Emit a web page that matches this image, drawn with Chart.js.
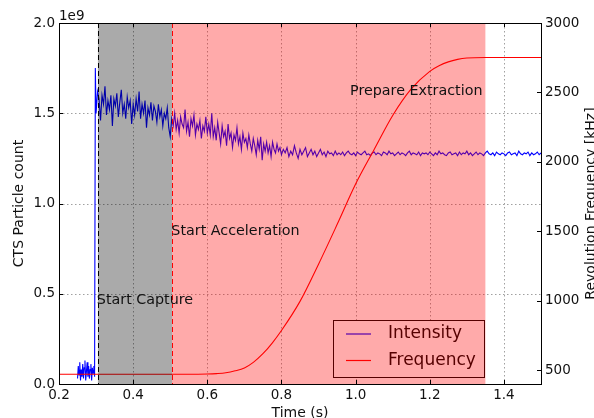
<!DOCTYPE html>
<html><head><meta charset="utf-8">
<script src="https://cdn.jsdelivr.net/npm/chart.js@4/dist/chart.umd.min.js"></script>
<style>html,body{margin:0;padding:0;background:#fff;overflow:hidden}</style>
</head><body>
<canvas id="c" width="594" height="418"></canvas>
<script>
// ---- tick labels ----
const xTicks = [0.2, 0.4, 0.6, 0.8, 1.0, 1.2, 1.4];
const leftTicks = [0, 0.5, 1.0, 1.5, 2.0];
const rightTicks = [500, 1000, 1500, 2000, 2500, 3000];

// ---- frequency series (kHz) ----
const freqTime = [0.20, 0.30, 0.40, 0.50, 0.55, 0.60, 0.625, 0.65, 0.675, 0.70, 0.725, 0.75, 0.775, 0.80, 0.85, 0.90, 0.95, 1.00, 1.05, 1.10, 1.15, 1.20, 1.225, 1.25, 1.275, 1.30, 1.35, 1.40, 1.50];
const freqValues = [470, 470, 470, 470, 470, 472, 475, 481, 495, 516, 558, 618, 695, 785, 995, 1263, 1548, 1840, 2089, 2334, 2525, 2652, 2692, 2720, 2738, 2748, 2752, 2752, 2752];

// ---- intensity series (particle count, x1e9) ----
const introStart = 0.250, introStep = 0.002;
const introValues = [0.03,0.10,0.05,0.12,0.02,0.08,0.04,0.11,0.03,0.09,0.13,0.02,0.07,0.12,0.04,0.10,0.03,0.08,0.11,0.02,0.09,0.06,0.10,0.04,1.75];
const captureStart = 0.300, captureStep = 0.004;
const captureValues = [
 1.50,1.62,1.58,1.46,1.60,1.55,1.65,1.49,1.57,1.52,1.60,1.43,1.58,1.54,1.61,1.48,1.56,1.63,1.50,1.55,1.47,1.59,1.53,1.57,1.44,1.55,
 1.49,1.58,1.51,1.62,1.47,1.55,1.50,1.57,1.42,1.53,1.49,1.56,1.46,1.54,1.51,1.45,1.55,1.48,1.52,1.43,1.50,1.47,1.53,1.42,1.37,
 1.47,1.43,1.50,1.41,1.46,1.39,1.48,1.44,1.42,1.52,1.40,1.45,1.37,1.47,1.43,1.49,1.38,1.44,1.41,1.46,1.36,1.43,1.40,1.48,1.39,
 1.44,1.38,1.50,1.37,1.42,1.35,1.45,1.39,1.33,1.43,1.37,1.40,1.32,1.44,1.36,1.39,1.31,1.38,1.35,1.42,1.33,1.37,1.30,1.39,1.34,
 1.36,1.31,1.38,1.33,1.29,1.36,1.32,1.27,1.35,1.30,1.37,1.24,1.33,1.29,1.34,1.28,1.32,1.26,1.34,1.30,1.28,1.33,1.29,1.31,1.27];
const tailStart = 0.805, tailStep = 0.005;
const tailValues = [
 1.30,1.28,1.31,1.26,1.29,1.27,1.32,1.28,1.25,1.30,1.27,1.29,1.31,1.26,1.28,1.30,1.27,1.29,1.26,1.28,1.30,1.27,1.285,1.26,1.29,1.275,1.28,1.265,1.29,1.27,
 1.28,1.27,1.285,1.265,1.28,1.29,1.275,1.27,1.28,1.265,
 1.285,1.275,1.27,1.28,1.29,1.27,1.275,1.265,1.28,1.285,
 1.27,1.28,1.275,1.265,1.285,1.28,1.27,1.29,1.275,1.28,
 1.265,1.275,1.285,1.27,1.28,1.275,1.265,1.28,1.29,1.27,
 1.28,1.275,1.27,1.285,1.265,1.28,1.275,1.28,1.27,1.285,
 1.275,1.265,1.28,1.27,1.29,1.275,1.28,1.27,1.265,1.28,
 1.285,1.27,1.275,1.28,1.265,1.285,1.27,1.28,1.275,1.29,
 1.27,1.28,1.265,1.275,1.285,1.27,1.28,1.275,1.265,1.28,
 1.29,1.275,1.27,1.28,1.265,1.285,1.275,1.27,1.28,1.275,
 1.265,1.28,1.285,1.27,1.275,1.28,1.265,1.29,1.275,1.27,
 1.28,1.275,1.285,1.265,1.28,1.27,1.275,1.285,1.27,1.28];

// ---- phases & annotations ----
const phaseTimes = { capture: 0.305, acceleration: 0.505, extractionEnd: 1.35 };
const annotationTexts = ['Start Capture', 'Start Acceleration', 'Prepare Extraction'];
const annotationTime = [0.302, 0.503, 0.985];
const annotationLevel = [0.465, 0.845, 1.62];

const seg = (start, step, vals) => vals.map((v, i) => ({ x: +(start + i * step).toFixed(4), y: v }));
const intensityData = [].concat(seg(introStart, introStep, introValues), seg(captureStart, captureStep, captureValues), seg(tailStart, tailStep, tailValues));
const freqData = freqTime.map((t, i) => ({ x: t, y: freqValues[i] }));

const FONT = '"DejaVu Sans", sans-serif';

const decor = {
  id: 'decor',
  beforeDatasetsDraw(chart) {
    const { ctx, chartArea: a, scales } = chart;
    ctx.save();
    ctx.strokeStyle = '#a0a0a0';
    ctx.lineWidth = 1;
    ctx.setLineDash([1.5, 2.5]);
    xTicks.forEach(v => {
      const px = Math.round(scales.x.getPixelForValue(v)) + 0.5;
      if (px <= a.left + 1 || px >= a.right - 1) return;
      ctx.beginPath(); ctx.moveTo(px, a.top); ctx.lineTo(px, a.bottom); ctx.stroke();
    });
    leftTicks.forEach(v => {
      const py = Math.round(scales.y.getPixelForValue(v)) + 0.5;
      if (py <= a.top + 1 || py >= a.bottom - 1) return;
      ctx.beginPath(); ctx.moveTo(a.left, py); ctx.lineTo(a.right, py); ctx.stroke();
    });
    ctx.restore();
  },
  afterDatasetsDraw(chart) {
    const { ctx, chartArea: a, scales } = chart;
    const X = v => scales.x.getPixelForValue(v);
    ctx.save();
    // legend (drawn below the translucent phase spans)
    const lx0 = a.left + 274, lx1 = a.right - 57, ly0 = a.bottom - 64, ly1 = a.bottom - 7;
    ctx.fillStyle = '#ffffff';
    ctx.fillRect(lx0, ly0, lx1 - lx0, ly1 - ly0);
    ctx.strokeStyle = '#000000'; ctx.lineWidth = 1;
    ctx.strokeRect(Math.round(lx0) + 0.5, Math.round(ly0) + 0.5, Math.round(lx1 - lx0), Math.round(ly1 - ly0));
    const items = [['Intensity', '#0000ff'], ['Frequency', '#ff0000']];
    ctx.font = '17px ' + FONT; ctx.textBaseline = 'middle'; ctx.textAlign = 'left';
    items.forEach((it, i) => {
      const yy = ly0 + 14 + i * 26.5;
      ctx.strokeStyle = it[1]; ctx.lineWidth = 1.2;
      ctx.beginPath(); ctx.moveTo(lx0 + 13, yy); ctx.lineTo(lx0 + 38, yy); ctx.stroke();
      ctx.fillStyle = '#000'; ctx.fillText(it[0], lx0 + 55, yy);
    });
    // phase spans
    ctx.fillStyle = 'rgba(0,0,0,0.333)';
    ctx.fillRect(X(phaseTimes.capture), a.top, X(phaseTimes.acceleration) - X(phaseTimes.capture), a.bottom - a.top);
    ctx.fillStyle = 'rgba(255,0,0,0.333)';
    ctx.fillRect(X(phaseTimes.acceleration), a.top, X(phaseTimes.extractionEnd) - X(phaseTimes.acceleration), a.bottom - a.top);
    // phase lines
    ctx.lineWidth = 1;
    ctx.setLineDash([5, 3]);
    ctx.strokeStyle = '#000';
    let px = Math.round(X(phaseTimes.capture)) + 0.5;
    ctx.beginPath(); ctx.moveTo(px, a.top); ctx.lineTo(px, a.bottom); ctx.stroke();
    ctx.strokeStyle = '#ff0000';
    px = Math.round(X(phaseTimes.acceleration)) + 0.5;
    ctx.beginPath(); ctx.moveTo(px, a.top); ctx.lineTo(px, a.bottom); ctx.stroke();
    ctx.setLineDash([]);
    // annotations
    ctx.font = '14.3px ' + FONT; ctx.fillStyle = '#111'; ctx.textAlign = 'left'; ctx.textBaseline = 'middle';
    annotationTexts.forEach((t, i) => ctx.fillText(t, X(annotationTime[i]), scales.y.getPixelForValue(annotationLevel[i])));
    // frame
    ctx.strokeStyle = '#000'; ctx.lineWidth = 1;
    ctx.strokeRect(Math.round(a.left) + 0.5, Math.round(a.top) + 0.5, Math.round(a.right - a.left), Math.round(a.bottom - a.top));
    // inward tick marks
    const tl = 4;
    ctx.beginPath();
    xTicks.forEach(v => { const p = Math.round(X(v)) + 0.5; ctx.moveTo(p, a.bottom); ctx.lineTo(p, a.bottom - tl); ctx.moveTo(p, a.top); ctx.lineTo(p, a.top + tl); });
    leftTicks.forEach(v => { const p = Math.round(scales.y.getPixelForValue(v)) + 0.5; ctx.moveTo(a.left, p); ctx.lineTo(a.left + tl, p); });
    rightTicks.forEach(v => { const p = Math.round(scales.y1.getPixelForValue(v)) + 0.5; ctx.moveTo(a.right, p); ctx.lineTo(a.right - tl, p); });
    ctx.stroke();
    ctx.restore();
  },
  afterDraw(chart) {
    const { ctx, chartArea: a } = chart;
    ctx.save();
    ctx.fillStyle = '#111';
    ctx.font = '13.5px ' + FONT;
    ctx.textAlign = 'left'; ctx.textBaseline = 'alphabetic';
    ctx.fillText('1e9', a.left, a.top - 3);
    ctx.font = '14px ' + FONT;
    ctx.textAlign = 'center'; ctx.textBaseline = 'middle';
    ctx.fillText('Time (s)', (a.left + a.right) / 2, 413);
    const cy = (a.top + a.bottom) / 2;
    ctx.save(); ctx.translate(19.5, cy); ctx.rotate(-Math.PI / 2); ctx.fillText('CTS Particle count', 0, 0); ctx.restore();
    ctx.save(); ctx.translate(591, cy); ctx.rotate(-Math.PI / 2); ctx.fillText('Revolution Frequency [kHz]', 0, 0); ctx.restore();
    ctx.restore();
  }
};

new Chart(document.getElementById('c'), {
  type: 'line',
  data: {
    datasets: [
      { label: 'Frequency', data: freqData, yAxisID: 'y1', borderColor: '#ff0000', borderWidth: 1.1, pointRadius: 0, cubicInterpolationMode: 'monotone', fill: false },
      { label: 'Intensity', data: intensityData, yAxisID: 'y', borderColor: '#0000ff', borderWidth: 1.1, pointRadius: 0, tension: 0, fill: false }
    ]
  },
  options: {
    responsive: false, animation: false, devicePixelRatio: 1,
    layout: { padding: { top: 23, left: 0, right: 0, bottom: 0 } },
    plugins: { legend: { display: false }, tooltip: { enabled: false } },
    scales: {
      x: {
        type: 'linear', min: 0.2, max: 1.5,
        afterBuildTicks: s => { s.ticks = xTicks.map(v => ({ value: v })); },
        afterFit: s => { s.height = 34; },
        grid: { display: false, drawTicks: false }, border: { display: false },
        ticks: { padding: 3, color: '#111', font: { family: FONT, size: 13.5 }, callback: v => (+v).toFixed(1), maxRotation: 0, autoSkip: false }
      },
      y: {
        position: 'left', min: 0, max: 2.0,
        afterBuildTicks: s => { s.ticks = leftTicks.map(v => ({ value: v })); },
        afterFit: s => { s.width = 59; },
        grid: { display: false, drawTicks: false }, border: { display: false },
        ticks: { padding: 4, color: '#111', font: { family: FONT, size: 13.5 }, callback: v => (+v).toFixed(1) }
      },
      y1: {
        position: 'right', min: 400, max: 3000,
        afterBuildTicks: s => { s.ticks = rightTicks.map(v => ({ value: v })); },
        afterFit: s => { s.width = 53; },
        grid: { display: false, drawTicks: false }, border: { display: false },
        ticks: { padding: 4, color: '#111', font: { family: FONT, size: 13.5 }, callback: v => String(v) }
      }
    }
  },
  plugins: [decor]
});
</script>
</body></html>
